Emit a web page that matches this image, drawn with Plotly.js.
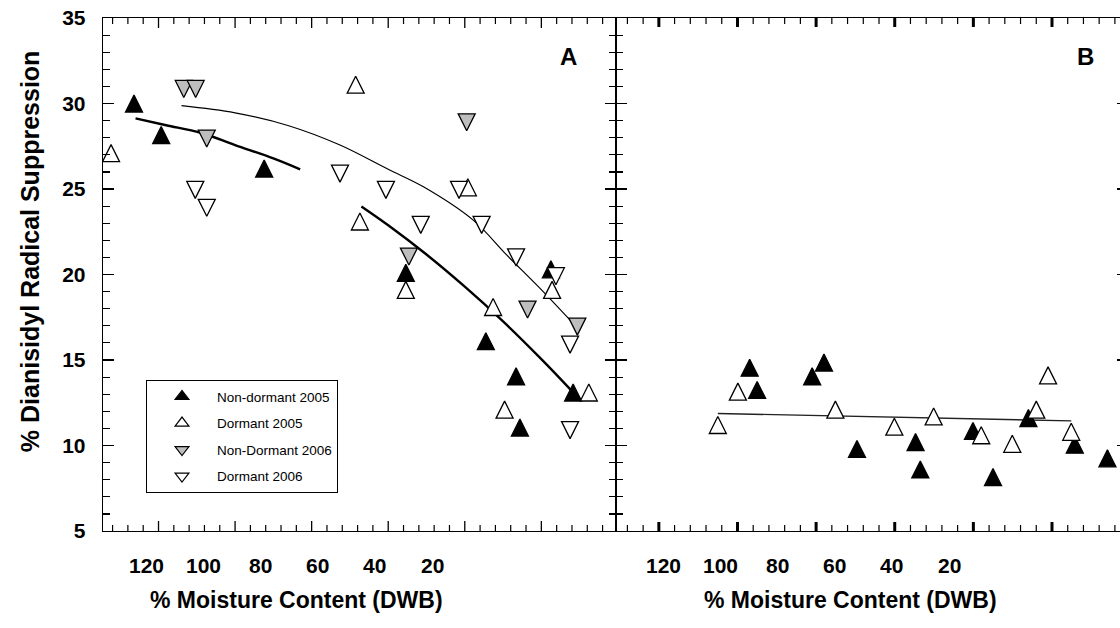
<!DOCTYPE html>
<html><head><meta charset="utf-8">
<script src="https://cdn.plot.ly/plotly-3.0.1.min.js"></script>
<style>html,body{margin:0;padding:0;background:#fff}#chart{width:1120px;height:628px}</style>
</head><body><div id="chart"></div>
<script>
// ---------- Panel A data (x = % moisture content, y = % suppression) ----------
const aNonDormant05X = [126.4, 119.3, 92.4, 55.4, 34.5, 26.6, 25.6, 11.7, 17.5];
const aNonDormant05Y = [30.0, 28.15, 26.2, 20.1, 16.1, 14.05, 11.05, 13.1, 20.3];
const aDormant05X = [132.4, 68.5, 67.4, 39.2, 55.4, 32.6, 17.2, 7.6, 29.6];
const aDormant05Y = [27.1, 31.1, 23.1, 25.1, 19.1, 18.1, 19.1, 13.1, 12.1];
const aNonDormant06X = [113.4, 110.3, 107.4, 39.5, 54.6, 23.6, 10.6];
const aNonDormant06Y = [30.85, 30.85, 27.95, 28.9, 21.05, 17.95, 16.95];
const aDormant06X = [110.4, 107.4, 72.6, 60.6, 51.5, 41.5, 35.6, 26.6, 16.2, 12.5, 12.5];
const aDormant06Y = [24.95, 23.9, 25.9, 24.95, 22.9, 24.95, 22.9, 21.0, 19.9, 15.9, 10.9];
// fitted curves
const aFitThickX = [126, 118, 109, 100, 90, 83, null, 67, 60, 50, 40, 30, 20, 12];
const aFitThickY = [29.13, 28.73, 28.29, 27.57, 26.79, 26.15, null, 23.98, 22.88, 21.17, 19.29, 17.26, 15.05, 13.18];
const aFitThinX = [114, 100, 86, 72.6, 60, 50.8, 37.8, 29, 20.4, 10.7];
const aFitThinY = [29.87, 29.45, 28.7, 27.57, 26.15, 25.13, 23.18, 21.13, 19.2, 16.9];
// ---------- Panel B data ----------
const bNonDormant05X = [96.9, 95.0, 78.0, 81.0, 69.6, 54.7, 53.5, 35.0, 40.1, 26.0, 14.2, 5.9];
const bNonDormant05Y = [14.55, 13.25, 14.85, 14.05, 9.8, 10.2, 8.6, 8.15, 10.85, 11.6, 10.05, 9.25];
const bDormant05X = [105.0, 99.9, 75.1, 60.1, 50.1, 38.0, 30.1, 21.0, 24.0, 15.1];
const bDormant05Y = [11.2, 13.15, 12.1, 11.1, 11.7, 10.6, 10.1, 14.1, 12.1, 10.8];
const bFitX = [105, 15.1];
const bFitY = [11.87, 11.44];
// ---------- labels ----------
const seriesNames = ['Non-dormant 2005', 'Dormant 2005', 'Non-Dormant 2006', 'Dormant 2006'];
const xTickVals = [120, 100, 80, 60, 40, 20];
const xTickText = ['120', '100', '80', '60', '40', '20'];
const xTitle = '% Moisture Content (DWB)';
const yTitle = '% Dianisidyl Radical Suppression';
const panelLetters = ['A', 'B'];

const FONT = 'Liberation Sans, Arial, Helvetica, sans-serif';
const MS = 17;
function tri(dir, fill) {
  return {symbol: 'arrow-down', angle: dir === 'up' ? 180 : 0, standoff: MS / 2, size: MS, color: fill, line: {color: '#000', width: 1.3}};
}
const styles = [tri('up', '#000000'), tri('up', '#ffffff'), tri('down', '#bebebe'), tri('down', '#ffffff')];
const legendSymbols = ['triangle-up', 'triangle-up', 'triangle-down', 'triangle-down'];
const legendFills = ['#000000', '#ffffff', '#bebebe', '#ffffff'];

const traces = [
  {x: aFitThickX, y: aFitThickY, mode: 'lines', line: {color: '#000', width: 2.4, shape: 'spline'}, showlegend: false, hoverinfo: 'skip', connectgaps: false},
  {x: aFitThinX, y: aFitThinY, mode: 'lines', line: {color: '#000', width: 1.2, shape: 'spline'}, showlegend: false, hoverinfo: 'skip'},
  {x: bFitX, y: bFitY, xaxis: 'x2', yaxis: 'y2', mode: 'lines', line: {color: '#222', width: 1.3}, showlegend: false, hoverinfo: 'skip'},
  {x: aNonDormant05X, y: aNonDormant05Y, mode: 'markers', name: seriesNames[0], showlegend: false, marker: styles[0]},
  {x: aDormant05X, y: aDormant05Y, mode: 'markers', name: seriesNames[1], showlegend: false, marker: styles[1]},
  {x: aNonDormant06X, y: aNonDormant06Y, mode: 'markers', name: seriesNames[2], showlegend: false, marker: styles[2]},
  {x: aDormant06X, y: aDormant06Y, mode: 'markers', name: seriesNames[3], showlegend: false, marker: styles[3]},
  {x: bNonDormant05X, y: bNonDormant05Y, xaxis: 'x2', yaxis: 'y2', mode: 'markers', name: seriesNames[0], showlegend: false, marker: styles[0]},
  {x: bDormant05X, y: bDormant05Y, xaxis: 'x2', yaxis: 'y2', mode: 'markers', name: seriesNames[1], showlegend: false, marker: styles[1]},
  {x: [null], y: [null], xaxis: 'x2', yaxis: 'y3', showlegend: false, hoverinfo: 'skip', mode: 'markers'}
];
seriesNames.forEach((n, i) => traces.push({x: [null], y: [null], mode: 'markers', name: n, legendgroup: 'g' + i, hoverinfo: 'skip',
  marker: {symbol: legendSymbols[i], size: 12, color: legendFills[i], line: {color: '#000', width: 1.2}}}));

const PL = 103, PW = 1017, PT = 18, PH = 512.7;
const Y0 = 5, Y1 = 35;
const pxPerY = PH / (Y1 - Y0);
const px2fx = p => (p - PL) / PW;
const py2fy = p => (PT + PH - p) / PH;
const split = px2fx(616);

function xBase(domain, range) {
  return {domain, range, type: 'linear', showgrid: false, zeroline: false, showline: true, linecolor: '#000', linewidth: 1.3,
    mirror: true, ticks: '', showticklabels: false};
}
const yBase = {range: [Y0, Y1], type: 'linear', showgrid: false, zeroline: false, showline: true, linecolor: '#000', linewidth: 1.3,
  ticks: 'inside', tickmode: 'linear', tick0: 0, dtick: 5, ticklen: 11, tickwidth: 1.2, tickcolor: '#000',
  minor: {ticks: 'inside', dtick: 1, ticklen: 7, tickwidth: 1.2, tickcolor: '#000', showgrid: false}};

// x tick marks (every 4 units, longer every 20) on bottom and top edges of each panel
const shapes = [];
function xTicks(xref, yref, maxV, majorW, majorLen) {
  for (let v = 4; v <= maxV; v += 4) {
    const major = v % 20 === 0;
    const len = (major ? majorLen : 6) / pxPerY;
    const w = major ? majorW : 1.2;
    shapes.push({type: 'line', xref, yref, x0: v, x1: v, y0: Y0, y1: Y0 + len, line: {color: '#000', width: w}});
    shapes.push({type: 'line', xref, yref, x0: v, x1: v, y0: Y1, y1: Y1 - len, line: {color: '#000', width: w}});
  }
}
xTicks('x', 'y', 132, 1.3, 10);
xTicks('x2', 'y2', 128, 3, 9);

const annotations = [];
[146, 663].forEach(start => xTickVals.forEach((v, i) => annotations.push({
  xref: 'paper', yref: 'paper', x: px2fx(start + (120 - v) * 2.86), y: py2fy(565), xanchor: 'center', yanchor: 'middle',
  text: '<b>' + xTickText[i] + '</b>', showarrow: false, font: {family: FONT, size: 21, color: '#000'}})));
annotations.push(
  {xref: 'paper', yref: 'paper', x: px2fx(568), y: py2fy(56), xanchor: 'center', yanchor: 'middle', text: '<b>' + panelLetters[0] + '</b>', showarrow: false, font: {family: FONT, size: 24}},
  {xref: 'paper', yref: 'paper', x: px2fx(1085), y: py2fy(56), xanchor: 'center', yanchor: 'middle', text: '<b>' + panelLetters[1] + '</b>', showarrow: false, font: {family: FONT, size: 24}},
  {xref: 'paper', yref: 'paper', x: px2fx(296), y: py2fy(600), xanchor: 'center', yanchor: 'middle', text: '<b>' + xTitle + '</b>', showarrow: false, font: {family: FONT, size: 23}},
  {xref: 'paper', yref: 'paper', x: px2fx(850), y: py2fy(600), xanchor: 'center', yanchor: 'middle', text: '<b>' + xTitle + '</b>', showarrow: false, font: {family: FONT, size: 23}},
  {xref: 'paper', yref: 'paper', x: px2fx(30), y: py2fy(251), xanchor: 'center', yanchor: 'middle', text: '<b>' + yTitle + '</b>', textangle: -90, showarrow: false, font: {family: FONT, size: 25}});

const layout = {
  width: 1120, height: 628, margin: {l: PL, r: 0, t: PT, b: 97},
  paper_bgcolor: '#fff', plot_bgcolor: 'rgba(0,0,0,0)', font: {family: FONT, color: '#000'}, showlegend: true,
  xaxis: Object.assign(xBase([0, split], [134.5, 0.5]), {anchor: 'y'}),
  xaxis2: Object.assign(xBase([split, 1], [130.9, 2.7]), {anchor: 'y2'}),
  yaxis: Object.assign({}, yBase, {anchor: 'x', mirror: 'ticks', tickfont: {family: FONT, size: 21, color: '#000', weight: 'bold'}, ticklabelstandoff: 12}),
  yaxis2: Object.assign({}, yBase, {anchor: 'x2', mirror: false, showticklabels: false}),
  yaxis3: {range: [Y0, Y1], type: 'linear', overlaying: 'y2', side: 'right', anchor: 'x2', showline: false, showgrid: false, zeroline: false,
    ticks: 'inside', ticklen: 3, tickwidth: 1.3, tickcolor: '#000', tickmode: 'linear', tick0: 0, dtick: 5, showticklabels: false},
  legend: {x: px2fx(146), y: py2fy(380), xanchor: 'left', yanchor: 'top', bgcolor: '#fff', bordercolor: '#000', borderwidth: 1,
    font: {family: FONT, size: 13.5, color: '#000'}, traceorder: 'grouped', tracegroupgap: 6, itemwidth: 60},
  shapes,
  annotations
};
Plotly.newPlot('chart', traces, layout, {displayModeBar: false, responsive: false, staticPlot: true});
</script>
</body></html>
